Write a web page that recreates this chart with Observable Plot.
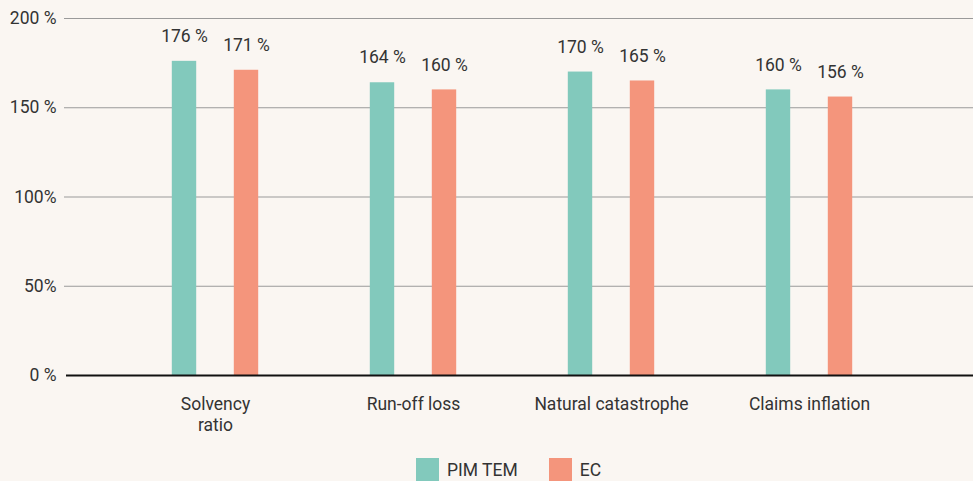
<!DOCTYPE html>
<html>
<head>
<meta charset="utf-8">
<script src="https://cdn.jsdelivr.net/npm/d3@7"></script>
<script src="https://cdn.jsdelivr.net/npm/@observablehq/plot@0.6"></script>
<style>
  html, body { margin: 0; padding: 0; background: #faf6f2; }
  body { width: 973px; height: 481px; overflow: hidden; font-family: Roboto, "Liberation Sans", sans-serif; color: #333; }
  #legend { height: 33px; display: flex; align-items: center; padding-left: 416px; padding-top: 10px; box-sizing: border-box; font-size: 17.5px; }
  .sw { width: 23px; height: 23px; display: inline-block; margin-right: 8px; }
  .item { display: flex; align-items: center; margin-right: 31px; }
</style>
</head>
<body>
<div id="chart"></div>
<div id="legend"></div>
<script>
const categories = ["Solvency\nratio", "Run-off loss", "Natural catastrophe", "Claims inflation"];
const series = ["PIM TEM", "EC"];
const pimTem = [176, 164, 170, 160];
const ec = [171, 160, 165, 156];
const yTicks = [0, 50, 100, 150, 200];
const yTickLabels = ["0 %", "50%", "100%", "150 %", "200 %"];
const colors = ["#82c9bc", "#f4957c"];

const pimRows = categories.map((c, i) => ({category: c, series: series[0], value: pimTem[i]}));
const ecRows = categories.map((c, i) => ({category: c, series: series[1], value: ec[i]}));

const chart = Plot.plot({
  width: 973,
  height: 448,
  marginTop: 18,
  marginBottom: 73,
  marginLeft: 64,
  marginRight: 0,
  style: {background: "#faf6f2", fontFamily: "Roboto, 'Liberation Sans', sans-serif", fontSize: "17.5px", color: "#333"},
  x: {domain: categories, range: [114, 909], padding: 0, axis: null},
  y: {domain: [0, 200], axis: null},
  marks: [
    Plot.ruleY(yTicks.filter(d => d > 0), {stroke: "#9a9a9a", strokeWidth: 1}),
    Plot.barY(pimRows, {x: "category", y: "value", fill: colors[0], insetLeft: 55.8, insetRight: 117.8}),
    Plot.barY(ecRows, {x: "category", y: "value", fill: colors[1], insetLeft: 117.8, insetRight: 55.8}),
    Plot.text(pimRows, {x: "category", y: "value", text: d => `${d.value} %`, dx: -31, dy: -25, fontSize: 17.5, fill: "#333"}),
    Plot.text(ecRows, {x: "category", y: "value", text: d => `${d.value} %`, dx: 31, dy: -25, fontSize: 17.5, fill: "#333"}),
    Plot.ruleY([0], {stroke: "#111", strokeWidth: 2, insetLeft: 2}),
    Plot.axisX({tickSize: 0, tickPadding: 20, fontSize: 17.5, lineHeight: 1.2, fill: "#333", label: null}),
    Plot.axisY({ticks: yTicks, tickFormat: d => yTickLabels[yTicks.indexOf(d)], tickSize: 0, tickPadding: 8, fontSize: 17.5, fill: "#333", label: null})
  ]
});
document.getElementById("chart").appendChild(chart);

const legend = document.getElementById("legend");
series.forEach((s, i) => {
  const item = document.createElement("span");
  item.className = "item";
  const sw = document.createElement("span");
  sw.className = "sw";
  sw.style.background = colors[i];
  item.appendChild(sw);
  item.appendChild(document.createTextNode(s));
  legend.appendChild(item);
});
</script>
</body>
</html>
